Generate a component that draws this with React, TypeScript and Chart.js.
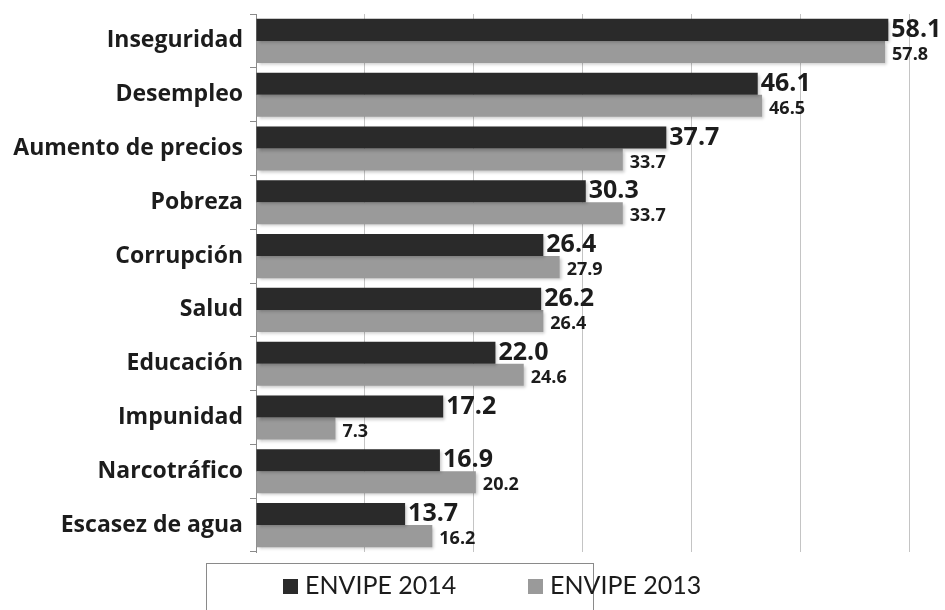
import React, { useEffect, useRef } from "react";
import { Chart, registerables } from "chart.js";

Chart.register(...registerables);

const categories = [
  "Inseguridad",
  "Desempleo",
  "Aumento de precios",
  "Pobreza",
  "Corrupción",
  "Salud",
  "Educación",
  "Impunidad",
  "Narcotráfico",
  "Escasez de agua",
];
const envipe2014 = [58.1, 46.1, 37.7, 30.3, 26.4, 26.2, 22.0, 17.2, 16.9, 13.7];
const envipe2013 = [57.8, 46.5, 33.7, 33.7, 27.9, 26.4, 24.6, 7.3, 20.2, 16.2];
const seriesNames = ["ENVIPE 2014", "ENVIPE 2013"];

const DARK = "#2a2a2a";
const GRAY = "#9a9a9a";
const TEXT = "#1c1c1c";
const BOLD_FONT = "'Open Sans', Lato, sans-serif";
const LEGEND_FONT = "Lato, 'Open Sans', sans-serif";

// Soft drop shadow under the bars
const barShadow = {
  id: "barShadow",
  beforeDatasetsDraw(chart: any) {
    const ctx = chart.ctx;
    ctx.save();
    ctx.shadowColor = "rgba(0,0,0,0.22)";
    ctx.shadowBlur = 3;
    ctx.shadowOffsetX = 2;
    ctx.shadowOffsetY = 2;
  },
  afterDatasetsDraw(chart: any) {
    chart.ctx.restore();
  },
};

// Draws the value next to the end of every bar
const valueLabels = {
  id: "valueLabels",
  afterDatasetsDraw(chart: any) {
    const ctx = chart.ctx;
    ctx.save();
    ctx.fillStyle = TEXT;
    ctx.textBaseline = "middle";
    ctx.textAlign = "left";
    chart.data.datasets.forEach((ds: any, di: number) => {
      const meta = chart.getDatasetMeta(di);
      ctx.font = di === 0 ? `bold 25px ${BOLD_FONT}` : `bold 18px ${BOLD_FONT}`;
      meta.data.forEach((bar: any, i: number) => {
        const v = ds.data[i] as number;
        const dx = di === 0 ? 3 : 7;
        const dy = di === 0 ? 0 : 3;
        ctx.fillText(v.toFixed(1), bar.x + dx, bar.y + dy);
      });
    });
    ctx.restore();
  },
};

// Boxed legend under the plot
const boxedLegend = {
  id: "boxedLegend",
  afterDraw(chart: any) {
    const ctx = chart.ctx;
    const boxX = 206;
    const boxY = 563;
    const boxW = 387;
    const boxH = 60;
    ctx.save();
    ctx.strokeStyle = "#8a8a8a";
    ctx.lineWidth = 1;
    ctx.strokeRect(boxX + 0.5, boxY + 0.5, boxW, boxH);
    ctx.font = `25px ${LEGEND_FONT}`;
    ctx.textBaseline = "middle";
    ctx.textAlign = "left";
    const starts = [283, 528];
    const cy = 586;
    chart.data.datasets.forEach((ds: any, di: number) => {
      const x = starts[di];
      ctx.fillStyle = ds.backgroundColor;
      ctx.fillRect(x, cy - 7, 15, 15);
      ctx.fillStyle = TEXT;
      ctx.fillText(ds.label, x + 22, cy);
    });
    ctx.restore();
  },
};

export default function App() {
  const canvasRef = useRef<HTMLCanvasElement | null>(null);

  useEffect(() => {
    if (!canvasRef.current) return;
    const chart = new Chart(canvasRef.current, {
      type: "bar",
      data: {
        labels: categories,
        datasets: [
          {
            label: seriesNames[0],
            data: envipe2014,
            backgroundColor: DARK,
            categoryPercentage: 0.82,
            barPercentage: 1.0,
          },
          {
            label: seriesNames[1],
            data: envipe2013,
            backgroundColor: GRAY,
            categoryPercentage: 0.82,
            barPercentage: 1.0,
          },
        ],
      },
      options: {
        indexAxis: "y",
        animation: false,
        responsive: false,
        layout: { padding: { left: 0, right: 36, top: 14, bottom: 58 } },
        plugins: {
          legend: { display: false },
          tooltip: { enabled: false },
        },
        scales: {
          x: {
            min: 0,
            max: 60,
            ticks: { display: false, stepSize: 10 },
            grid: { color: "#c4c4c4", drawTicks: false, lineWidth: 1 },
            border: { display: false },
            afterFit(scale: any) {
              scale.height = 0;
            },
          },
          y: {
            ticks: {
              color: TEXT,
              font: { family: BOLD_FONT, size: 23, weight: "bold" },
              padding: 7,
            },
            grid: {
              drawOnChartArea: false,
              drawTicks: true,
              tickLength: 6,
              color: "#8a8a8a",
            },
            border: { display: true, color: "#8a8a8a" },
            afterFit(scale: any) {
              scale.width = 256;
              scale.paddingTop = 0;
              scale.paddingBottom = 0;
            },
          },
        },
      },
      plugins: [barShadow, valueLabels, boxedLegend],
    });
    return () => chart.destroy();
  }, []);

  return (
    <div style={{ position: "absolute", left: 0, top: 0, width: 945, height: 610, background: "#fff" }}>
      <canvas ref={canvasRef} width={945} height={610} />
    </div>
  );
}
